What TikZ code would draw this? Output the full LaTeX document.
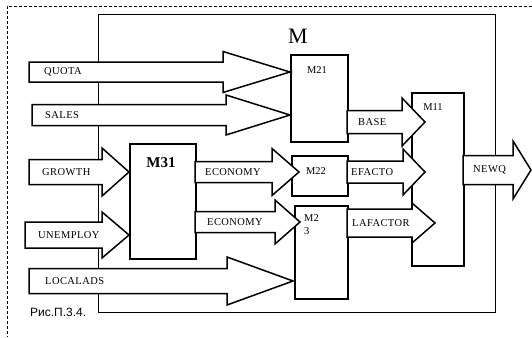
\documentclass[tikz,border=0pt]{standalone}
\usepackage{fontspec}
\setmainfont{Liberation Serif}
\newfontfamily\lblfont[LetterSpace=4]{Liberation Serif}
\newfontfamily\capfont{Liberation Sans}
\newcommand{\barrow}[9]{% x0, xh, tip, cy, body half, head half, name, text, text x
  \draw[arw] (#1,#4-#5) -- (#2,#4-#5) -- (#2,#4-#6) -- (#3,#4) -- (#2,#4+#6) -- (#2,#4+#5) -- (#1,#4+#5) -- cycle;
  \node[lbl] (#7) at (#9,#4) {#8};
}
\begin{document}
\begin{tikzpicture}[x=1pt,y=-1pt,
  frame/.style={line width=0.5pt, dash pattern=on 3pt off 2pt},
  mbox/.style={draw, line width=0.6pt},
  blk/.style={draw, line width=1.6pt, fill=white, inner sep=0pt, anchor=north west},
  arw/.style={draw, line width=1.5pt, fill=white, line join=miter},
  lbl/.style={font=\lblfont\fontsize{10.5}{12}\selectfont, anchor=west, inner sep=0pt},
  boxlbl/.style={font=\fontsize{10.5}{13}\selectfont, inner sep=0pt}]
\useasboundingbox (0,0) rectangle (532,337);
% outer dashed frame
\coordinate (fTL) at (7,6);
\coordinate (fTR) at (532,6);
\coordinate (fBL) at (7,337);
\draw[frame] (fTR) -- (fTL) -- (fBL);
% module M
\node[mbox, inner sep=0pt, anchor=north west, minimum width=397pt, minimum height=298pt] (M) at (98,14) {};
\node[font=\fontsize{22}{24}\selectfont, inner sep=0pt] (Mlbl) at (298,36) {M};
% inner modules
\node[blk, minimum width=57pt, minimum height=87pt] (M21) at (290,54) {};
\node[blk, minimum width=66pt, minimum height=115pt] (M31) at (129,143) {};
\node[blk, minimum width=56pt, minimum height=40pt] (M22) at (291,155) {};
\node[blk, minimum width=53pt, minimum height=93pt] (M23) at (294,205) {};
\node[blk, minimum width=52pt, minimum height=173pt] (M11) at (411,92) {};
\node[boxlbl] (l21) at (317,70) {M21};
\node[font=\bfseries\fontsize{15}{16}\selectfont, inner sep=0pt] (l31) at (161,163) {M31};
\node[boxlbl] (l22) at (316,171) {M22};
\node[boxlbl, align=left, anchor=north west] (l23) at (304,214) {M2\\3};
\node[boxlbl] (l11) at (433,107) {M11};
% block arrows
\barrow{29}{223}{290}{72}{10}{20.5}{aq}{QUOTA}{44}
\barrow{32}{226}{290}{115}{10.5}{20}{as}{SALES}{45}
\barrow{29}{102}{129}{172}{12.5}{24}{ag}{GROWTH}{42}
\barrow{25}{102}{129}{235}{13}{23}{au}{UNEMPLOY}{38}
\barrow{29}{227}{293}{281}{12.5}{24}{al}{LOCALADS}{45}
\barrow{195}{272}{299}{172}{10.5}{23.5}{ae1}{ECONOMY}{205}
\barrow{195}{275}{300}{222}{10.5}{22}{ae2}{ECONOMY}{207}
\barrow{347}{402}{425}{122}{11.5}{24}{ab}{BASE}{358}
\barrow{347}{403}{425}{172}{11}{23}{ae}{EFACTO}{351}
\barrow{347}{412}{435}{223}{14}{20}{ala}{LAFACTOR}{352}
\barrow{463}{513}{531}{170}{14.5}{29}{an}{NEWQ}{473}
% caption
\node[font=\capfont\fontsize{12}{13}\selectfont, anchor=west, inner sep=0pt] (cap) at (30,312) {Рис.П.3.4.};
\end{tikzpicture}
\end{document}
